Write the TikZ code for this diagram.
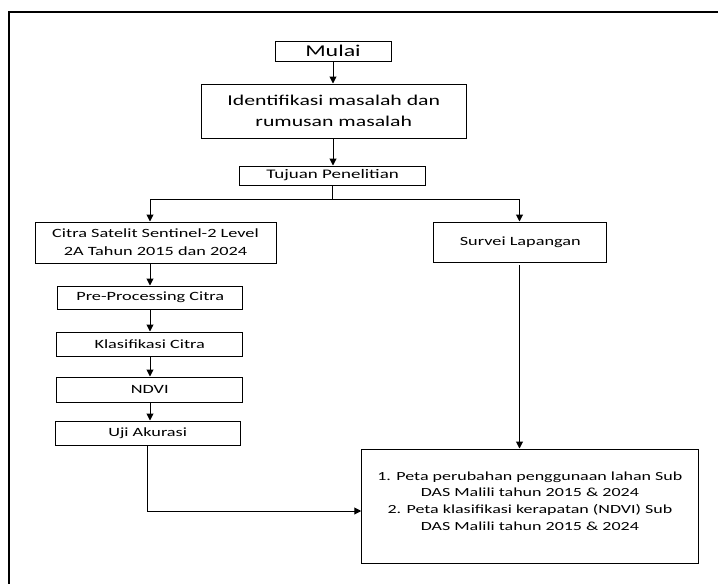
\documentclass[tikz,border=0pt]{standalone}
\usepackage{fontspec}
\setmainfont[FakeStretch=1.45]{Carlito}
\usetikzlibrary{arrows.meta}
\begin{document}
\begin{tikzpicture}[x=1pt,y=-1pt,
  box/.style={draw, line width=1pt, inner sep=0pt, align=center},
  conn/.style={line width=1pt},
  arr/.style={conn, -{Triangle[length=7pt,width=7pt]}},
  fbig/.style={font=\fontsize{15}{21}\selectfont},
  fmid/.style={font=\fontsize{12.6}{17.7}\selectfont}]
\useasboundingbox (0,0) rectangle (718,584);
\draw[line width=2pt] (8.7,600) -- (8.7,12) -- (730,12);

\node[box, minimum width=116pt, minimum height=20pt, font=\fontsize{16.5}{19}\selectfont] (mulai) at (333,51) {Mulai};
\node[box, fbig, minimum width=264.5pt, minimum height=54pt] (ident) at (333.75,111) {Identifikasi masalah dan\\rumusan masalah};
\node[box, minimum width=186.3pt, minimum height=19pt, font=\fontsize{13.1}{16}\selectfont] (tujuan) at (332.6,175.5) {Tujuan Penelitian};
\node[box, fmid, minimum width=241pt, minimum height=41pt] (citra) at (155.5,242.5) {Citra Satelit Sentinel-2 Level\\2A Tahun 2015 dan 2024};
\node[box, fmid, minimum width=172.7pt, minimum height=40pt] (survei) at (520.3,242) {Survei Lapangan};
\node[box, fmid, minimum width=184.7pt, minimum height=23pt] (pre) at (150.3,297.5) {Pre-Processing Citra};
\node[box, fmid, minimum width=185.9pt, minimum height=24pt] (klas) at (149.75,344) {Klasifikasi Citra};
\node[box, fmid, minimum width=185.9pt, minimum height=25pt] (ndvi) at (149.75,389.5) {NDVI};
\node[box, fmid, minimum width=185.4pt, minimum height=24pt] (uji) at (147.7,433) {Uji Akurasi};
\node[box, minimum width=336.3pt, minimum height=114pt] (final) at (529.9,506) {};
\node[align=center, inner sep=0pt, font=\fontsize{12.4}{16.7}\selectfont] (finaltxt) at (529.9,501)
  {1. Peta perubahan penggunaan lahan Sub\\DAS Malili tahun 2015 \& 2024\\2. Peta klasifikasi kerapatan (NDVI) Sub\\DAS Malili tahun 2015 \& 2024};

\coordinate (jl) at (150,199.3);
\coordinate (jr) at (519.5,199.3);
\coordinate (sv) at (519.5,265);
\coordinate (ue) at (147.5,511);

\draw[arr] (mulai.south) -- (ident.north -| mulai.south);
\draw[arr] (ident.south -| mulai.south) -- (tujuan.north -| mulai.south);
\draw[conn] (tujuan.south) -- (tujuan.south |- jl);
\draw[conn] (jl) -- (jr);
\draw[arr] (jl) -- (jl |- citra.north);
\draw[arr] (jr) -- (jr |- survei.north);
\draw[arr] (jl |- citra.south) -- (jl |- pre.north);
\draw[arr] (jl |- pre.south) -- (jl |- klas.north);
\draw[arr] (jl |- klas.south) -- (jl |- ndvi.north);
\draw[arr] (jl |- ndvi.south) -- (jl |- uji.north);
\draw[arr] (sv) -- (sv |- final.north);
\draw[arr] (ue |- uji.south) -- (ue) -- (ue -| final.west);
\end{tikzpicture}
\end{document}
